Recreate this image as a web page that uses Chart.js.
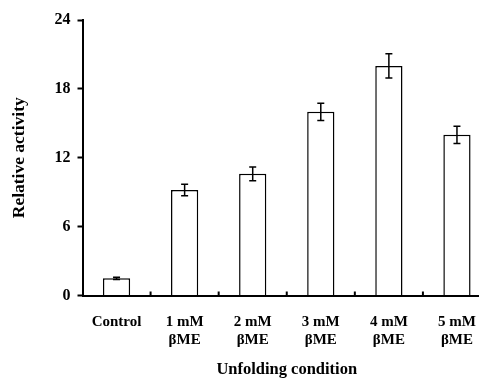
<!DOCTYPE html>
<html>
<head>
<meta charset="utf-8">
<script src="https://cdn.jsdelivr.net/npm/chart.js@4"></script>
<style>
  html, body { margin: 0; padding: 0; background: #fff; overflow: hidden; }
  /* plot runs a little past the right edge, as in the original */
  #wrap { width: 491px; height: 378px; }
</style>
</head>
<body>
<div id="wrap"><canvas id="myChart"></canvas></div>
<script>
const categories = ["Control", ["1 mM", "βME"], ["2 mM", "βME"], ["3 mM", "βME"], ["4 mM", "βME"], ["5 mM", "βME"]];
const activity = [1.5, 9.2, 10.6, 16.0, 20.0, 14.0];
const errors = [0.1, 0.5, 0.6, 0.75, 1.05, 0.75];
const yTicks = [0, 6, 12, 18, 24];

const font = { family: "'Liberation Serif', 'Times New Roman', serif", weight: "bold" };

// error bars + small inward ticks between categories
const extras = {
  id: "extras",
  afterDatasetsDraw(chart) {
    const ctx = chart.ctx;
    const y = chart.scales.y;
    const x = chart.scales.x;
    const bars = chart.getDatasetMeta(0).data;
    ctx.save();
    ctx.strokeStyle = "#000";
    ctx.lineWidth = 1.5;
    bars.forEach((bar, i) => {
      const top = y.getPixelForValue(activity[i] + errors[i]);
      const bot = y.getPixelForValue(activity[i] - errors[i]);
      ctx.beginPath();
      ctx.moveTo(bar.x, top);
      ctx.lineTo(bar.x, bot);
      ctx.moveTo(bar.x - 3.5, top);
      ctx.lineTo(bar.x + 3.5, top);
      ctx.moveTo(bar.x - 3.5, bot);
      ctx.lineTo(bar.x + 3.5, bot);
      ctx.stroke();
    });
    ctx.lineWidth = 2;
    const base = chart.chartArea.bottom;
    for (let i = 0; i < bars.length - 1; i++) {
      const bx = (x.getPixelForValue(i) + x.getPixelForValue(i + 1)) / 2;
      ctx.beginPath();
      ctx.moveTo(bx, base);
      ctx.lineTo(bx, base - 4);
      ctx.stroke();
    }
    ctx.restore();
  }
};

new Chart(document.getElementById("myChart").getContext("2d"), {
  type: "bar",
  data: {
    labels: categories,
    datasets: [{
      data: activity,
      backgroundColor: "#fff",
      borderColor: "#000",
      borderWidth: 1.5,
      barPercentage: 0.4,
      categoryPercentage: 1.0
    }]
  },
  options: {
    responsive: true,
    maintainAspectRatio: false,
    animation: false,
    layout: { padding: { top: 20, right: 0, left: 0, bottom: 0 } },
    plugins: { legend: { display: false }, tooltip: { enabled: false } },
    scales: {
      x: {
        afterFit: s => { s.height = 82.5; },
        grid: { display: false },
        border: { display: true, color: "#000", width: 2 },
        ticks: { color: "#000", font: { ...font, size: 15, lineHeight: 1.2 }, padding: 10, maxRotation: 0, autoSkip: false },
        title: { display: true, text: "Unfolding condition", color: "#000", font: { ...font, size: 16.5, lineHeight: 1.0 }, padding: { top: 4, bottom: 0 } }
      },
      y: {
        min: 0,
        max: 24,
        afterFit: s => { s.width = 82.5; },
        afterBuildTicks: s => { s.ticks = yTicks.map(v => ({ value: v })); },
        grid: { drawOnChartArea: false, drawTicks: true, tickLength: 5, tickColor: "#000", tickWidth: 2 },
        border: { display: true, color: "#000", width: 2 },
        ticks: { color: "#000", font: { ...font, size: 16 }, padding: 7 },
        title: { display: true, text: "Relative activity", color: "#000", font: { ...font, size: 17.5 }, padding: { top: 9, bottom: 4 } }
      }
    }
  },
  plugins: [extras]
});
</script>
</body>
</html>
